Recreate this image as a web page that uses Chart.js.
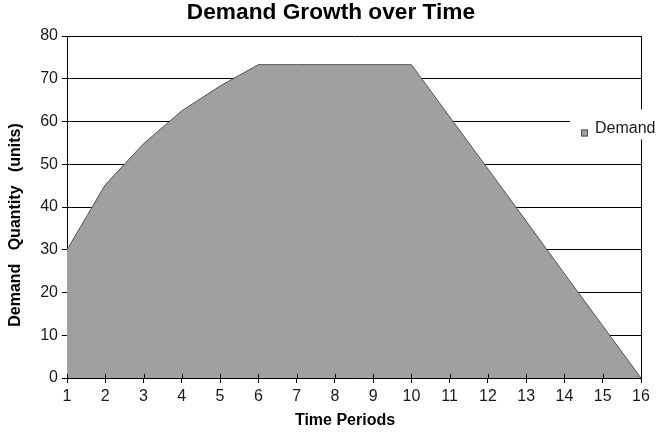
<!DOCTYPE html>
<html>
<head>
<meta charset="utf-8">
<script src="https://cdn.jsdelivr.net/npm/chart.js@4/dist/chart.umd.min.js"></script>
<style>
  html, body { margin: 0; padding: 0; background: #fff; }
  #wrap { width: 659px; height: 434px; }
</style>
</head>
<body>
<div id="wrap"><canvas id="c" width="659" height="434"></canvas></div>
<script>
// Time periods along the horizontal axis
const periods = ['1','2','3','4','5','6','7','8','9','10','11','12','13','14','15','16'];
// Demand quantity (units) for each period
const demand = [30, 45.2, 54.8, 62.5, 68.3, 73.3, 73.3, 73.3, 73.3, 73.3, 61.1, 48.9, 36.7, 24.4, 12.2, 0];
// Vertical axis range
const yMin = 0, yMax = 80, yStep = 10;

const chartTitle = 'Demand Growth over Time';
const xTitle = 'Time Periods';
const yTitle = 'Demand   Quantity   (units)';
const seriesName = 'Demand';

const FONT = '"Liberation Sans", Arial, Helvetica, sans-serif';
const FILL = '#a0a0a0';
const EDGE = '#555555';
const INK = '#1a1a1a';

// Chart title, axis titles, inner tick marks on the time axis, and the legend box
const decorations = {
  id: 'decorations',
  afterDatasetsDraw(chart) {
    const { ctx, chartArea: a, scales } = chart;
    ctx.save();
    // short tick marks rising into the plot from the time axis
    ctx.strokeStyle = '#000';
    ctx.lineWidth = 1;
    scales.x.ticks.forEach((t, i) => {
      const px = Math.round(scales.x.getPixelForTick(i)) + 0.5;
      ctx.beginPath();
      ctx.moveTo(px, a.bottom - 4);
      ctx.lineTo(px, a.bottom);
      ctx.stroke();
    });

    // legend, sitting on a white patch over the right edge of the plot
    const ly = scales.y.getPixelForValue(60) + 6;
    ctx.fillStyle = '#fff';
    ctx.fillRect(a.right - 71, ly - 18, chart.width - (a.right - 71), 30);
    ctx.fillStyle = FILL;
    ctx.strokeStyle = EDGE;
    ctx.fillRect(a.right - 60, ly + 2, 7, 7);
    ctx.strokeRect(a.right - 60 + 0.5, ly + 2 + 0.5, 6, 6);
    ctx.fillStyle = INK;
    ctx.font = '16px ' + FONT;
    ctx.textAlign = 'left';
    ctx.textBaseline = 'middle';
    ctx.fillText(seriesName, a.right - 46, ly + 1);

    // chart title
    ctx.fillStyle = '#000';
    ctx.textAlign = 'center';
    ctx.textBaseline = 'middle';
    ctx.font = 'bold 22.7px ' + FONT;
    ctx.fillText(chartTitle, (a.left + a.right) / 2 - 23, a.top - 23);

    // axis titles
    ctx.font = 'bold 16px ' + FONT;
    ctx.fillText(xTitle, (a.left + a.right) / 2 - 9, chart.height - 13);
    ctx.translate(16, (a.top + a.bottom) / 2 + 18);
    ctx.rotate(-Math.PI / 2);
    ctx.fillText(yTitle, 0, 0);
    ctx.restore();
  }
};

new Chart(document.getElementById('c'), {
  type: 'line',
  data: {
    labels: periods,
    datasets: [{
      label: seriesName,
      data: demand,
      fill: 'origin',
      backgroundColor: FILL,
      borderColor: EDGE,
      borderWidth: 1,
      pointRadius: 0,
      tension: 0
    }]
  },
  options: {
    responsive: false,
    animation: false,
    layout: { padding: { left: 0, right: 18, top: 36, bottom: 0 } },
    plugins: {
      legend: { display: false },
      tooltip: { enabled: false },
      title: { display: false }
    },
    scales: {
      x: {
        offset: false,
        afterFit: s => { s.height = 56; },
        border: { display: true, color: '#000', width: 1 },
        grid: {
          color: c => (c.index === periods.length - 1 ? '#000' : 'rgba(0,0,0,0)'),
          tickColor: '#000',
          tickLength: 5,
          drawOnChartArea: true
        },
        ticks: {
          color: INK,
          font: { family: FONT, size: 16 },
          padding: 4,
          maxRotation: 0,
          autoSkip: false
        }
      },
      y: {
        min: yMin,
        max: yMax,
        afterFit: s => { s.width = 67; },
        border: { display: true, color: '#000', width: 1 },
        grid: { color: '#000', tickColor: '#000', tickLength: 5 },
        ticks: {
          stepSize: yStep,
          color: INK,
          font: { family: FONT, size: 16 },
          padding: 4
        }
      }
    }
  },
  plugins: [decorations]
});
</script>
</body>
</html>
